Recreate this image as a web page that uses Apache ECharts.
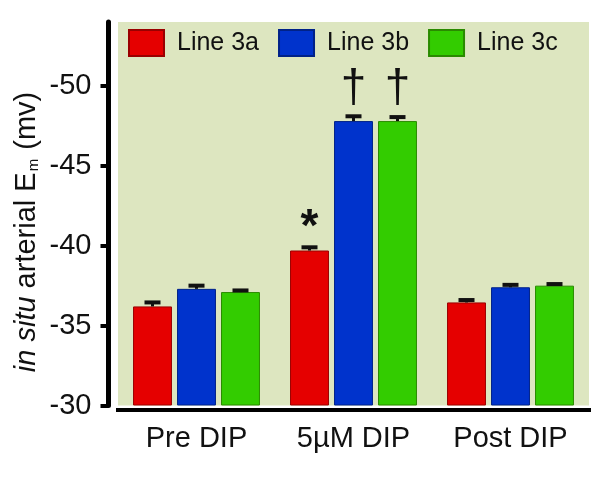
<!DOCTYPE html>
<html>
<head>
<meta charset="utf-8">
<script src="https://cdn.jsdelivr.net/npm/echarts@6/dist/echarts.min.js"></script>
<style>html,body{margin:0;padding:0;background:#fff;}#c{width:600px;height:484px;}</style>
</head>
<body>
<div id="c"></div>
<script>
const categories = ['Pre DIP', '5\u00b5M DIP', 'Post DIP'];
const seriesNames = ['Line 3a', 'Line 3b', 'Line 3c'];
const line3a = [-36.2, -39.7, -36.45];
const line3b = [-37.3, -47.8, -37.4];
const line3c = [-37.1, -47.8, -37.5];
const err3a = [-36.45, -39.9, -36.6];
const err3b = [-37.5, -48.1, -37.55];
const err3c = [-37.2, -48.05, -37.6];
const yTicks = [-30, -35, -40, -45, -50];
const markSymbols = ['*', '\u2020', '\u2020'];
const markCategory = [1, 1, 1];
const markSeries = [0, 1, 2];
const markValues = [-41.6, -49.84, -49.84];

const colors = ['#e50000', '#0033cc', '#33cc00'];
const borders = ['#9a0000', '#002288', '#2a8a00'];
const FONT = '"Liberation Sans", Arial, Helvetica, sans-serif';
const BW = 0.248, GAP = 0.13;

const values = [line3a, line3b, line3c];
const errs = [err3a, err3b, err3c];

const errData = [];
for (let s = 0; s < 3; s++) {
  for (let c = 0; c < categories.length; c++) {
    errData.push([c, s, values[s][c], errs[s][c]]);
  }
}
const markData = markSymbols.map((t, i) => [markCategory[i], markSeries[i], markValues[i], t]);

function offsetFor(s, api) {
  const band = api.size([1, 0])[0];
  return (s - 1) * band * BW * (1 + GAP);
}

const chart = echarts.init(document.getElementById('c'), null, {renderer: 'canvas'});
chart.setOption({
  animation: false,
  backgroundColor: '#ffffff',
  textStyle: {fontFamily: FONT},
  grid: {left: 118, right: 11, top: 22, bottom: 78.5, show: true, backgroundColor: '#dde6c0', borderWidth: 0},
  legend: {
    data: seriesNames,
    left: 123, top: 24,
    itemWidth: 35, itemHeight: 26, itemGap: 19,
    icon: 'rect',
    textStyle: {fontSize: 25, color: '#111', fontFamily: FONT, padding: [0, 0, 0, 8]}
  },
  xAxis: {
    type: 'category',
    data: categories,
    offset: 4,
    axisLine: {lineStyle: {color: '#000', width: 4, cap: 'square'}},
    axisTick: {alignWithLabel: true, length: 8, lineStyle: {color: '#000', width: 4}},
    axisLabel: {fontSize: 29, color: '#111', margin: 15, fontFamily: FONT},
    splitLine: {show: false}
  },
  yAxis: {
    type: 'value',
    inverse: true,
    min: -54, max: -30,
    startValue: -30,
    offset: 9.5,
    axisLine: {show: true, lineStyle: {color: '#000', width: 5}},
    axisTick: {show: true, length: 8, customValues: yTicks, lineStyle: {color: '#000', width: 4}},
    axisLabel: {fontSize: 29, color: '#111', margin: 17, customValues: yTicks, fontFamily: FONT},
    splitLine: {show: false}
  },
  graphic: [{
    type: 'text',
    x: 27, y: 232,
    rotation: Math.PI / 2,
    style: {
      text: '{it|in situ} {n|arterial E}{sub|m}{n| (mv)}',
      align: 'center', verticalAlign: 'middle',
      fill: '#111',
      font: '29px ' + FONT,
      rich: {
        it: {fontSize: 29, fontStyle: 'italic', fontFamily: FONT, fill: '#111'},
        n: {fontSize: 29, fontFamily: FONT, fill: '#111'},
        sub: {fontSize: 15, fontFamily: FONT, fill: '#111', verticalAlign: 'bottom', padding: [0, 1, 0, 1]}
      }
    }
  }],
  series: [
    ...seriesNames.map((name, s) => ({
      name: name,
      type: 'bar',
      data: values[s],
      barWidth: (BW * 100) + '%',
      barGap: (GAP * 100) + '%',
      clip: true,
      itemStyle: {color: colors[s], borderColor: borders[s], borderWidth: 1}
    })),
    {
      name: 'err',
      type: 'custom',
      data: errData,
      encode: {x: 0, y: 3},
      z: 3,
      renderItem: function (params, api) {
        const c = api.value(0), s = api.value(1);
        const top = api.coord([c, api.value(2)]);
        const e = api.coord([c, api.value(3)]);
        const x = top[0] + offsetFor(s, api);
        return {
          type: 'group',
          children: [
            {type: 'line', shape: {x1: x, y1: top[1], x2: x, y2: e[1]}, style: {stroke: '#111', lineWidth: 3}},
            {type: 'line', shape: {x1: x - 8, y1: e[1], x2: x + 8, y2: e[1]}, style: {stroke: '#111', lineWidth: 4}}
          ]
        };
      }
    },
    {
      name: 'marks',
      type: 'custom',
      data: markData,
      encode: {x: 0, y: 2},
      z: 4,
      renderItem: function (params, api) {
        const c = api.value(0), s = api.value(1);
        const p = api.coord([c, api.value(2)]);
        const txt = markSymbols[params.dataIndex];
        const isStar = txt === '*';
        return {
          type: 'text',
          x: p[0] + offsetFor(s, api),
          y: p[1] + (isStar ? 8 : 1),
          style: {
            text: txt,
            align: 'center', verticalAlign: 'middle',
            fill: '#111',
            font: (isStar ? 'bold 46' : '46') + 'px ' + FONT
          }
        };
      }
    }
  ]
});
</script>
</body>
</html>
